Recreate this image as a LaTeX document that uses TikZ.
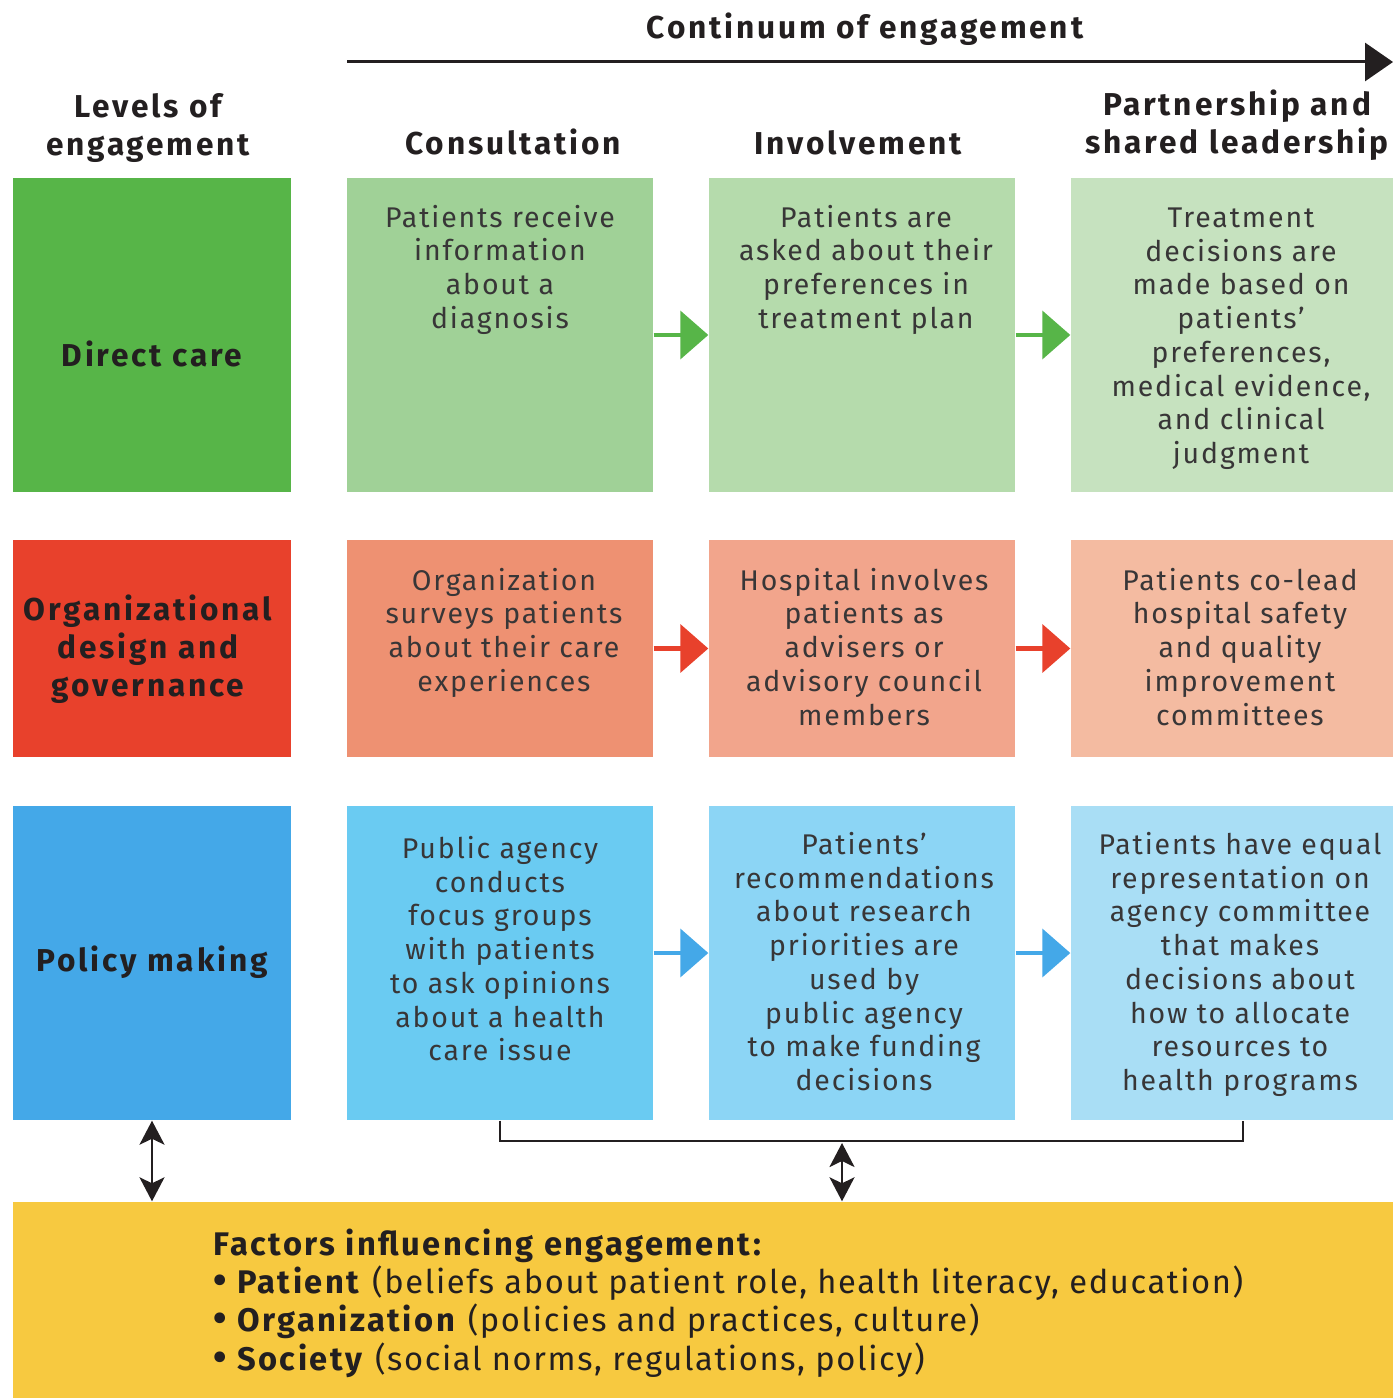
\documentclass[tikz,border=0pt]{standalone}
\usepackage{fontspec}
\setmainfont{Fira Sans}
\newfontfamily\bodyfam{Fira Sans}[LetterSpace=6.5]
\newfontfamily\headfam{Fira Sans}[LetterSpace=9]
\newfontfamily\factfam{Fira Sans}[LetterSpace=5, BoldFeatures={LetterSpace=7.5}]
\usepackage{tikz}
\usetikzlibrary{arrows.meta}
\usetikzlibrary{positioning}
\usetikzlibrary{calc}
\pgfdeclarelayer{nodelayer}
\pgfdeclarelayer{edgelayer}
\pgfsetlayers{main,edgelayer,nodelayer}
\definecolor{ink}{HTML}{231F20}
\definecolor{body}{HTML}{383637}
\definecolor{dcgreen}{HTML}{57B548}
\definecolor{gA}{HTML}{A0D197}
\definecolor{gB}{HTML}{B5DBAC}
\definecolor{gC}{HTML}{C6E2BF}
\definecolor{ogred}{HTML}{E8412C}
\definecolor{rA}{HTML}{EE9172}
\definecolor{rB}{HTML}{F2A58C}
\definecolor{rC}{HTML}{F4BBA1}
\definecolor{pmblue}{HTML}{44A8E8}
\definecolor{bA}{HTML}{6ACBF2}
\definecolor{bB}{HTML}{8CD5F5}
\definecolor{bC}{HTML}{A9DEF5}
\definecolor{factors}{HTML}{F7C940}
\newcommand{\bodysize}{\bodyfam\fontsize{8.1}{9.6}\selectfont}
\newcommand{\headsize}{\headfam\fontsize{9}{10.8}\selectfont\bfseries}
\newcommand{\factsize}{\factfam\fontsize{9.3}{10.9}\selectfont}
\newcommand{\dotitem}{{\fontsize{11}{10.9}\selectfont\textbullet}\ }
\tikzset{cell/.style={draw=none, rectangle, inner sep=0pt, minimum width=3.06cm}}
\tikzset{lvl/.style={draw=none, rectangle, inner sep=0pt, minimum width=2.78cm}}
\tikzset{txt/.style={inner sep=0pt, anchor=base, align=center, text=body, font=\bodysize}}
\tikzset{head/.style={inner sep=0pt, anchor=base, align=center, text=ink, font=\headsize}}
\tikzset{step arrow/.style={line width=1.15pt, -{Triangle[length=0.28cm, width=0.48cm]}}}
\tikzset{both ways/.style={line width=0.7pt, ink, {Stealth[length=0.24cm, width=0.25cm, inset=0.06cm]}-{Stealth[length=0.24cm, width=0.25cm, inset=0.06cm]}}}

\begin{document}
\begin{tikzpicture}
	\useasboundingbox (0, 0) rectangle (13.93, -13.98);
	\begin{pgfonlayer}{nodelayer}
		% levels
		\node [style=lvl, fill=dcgreen, minimum height=3.14cm] (0) at (1.52, -3.35) {};
		\node [style=lvl, fill=ogred, minimum height=2.17cm] (4) at (1.52, -6.485) {};
		\node [style=lvl, fill=pmblue, minimum height=3.14cm] (8) at (1.52, -9.63) {};
		% cells
		\node [style=cell, fill=gA, minimum height=3.14cm] (1) at (5.00, -3.35) {};
		\node [style=cell, fill=gB, minimum height=3.14cm] (2) at (8.62, -3.35) {};
		\node [style=cell, fill=gC, minimum height=3.14cm, minimum width=3.22cm] (3) at (12.32, -3.35) {};
		\node [style=cell, fill=rA, minimum height=2.17cm] (5) at (5.00, -6.485) {};
		\node [style=cell, fill=rB, minimum height=2.17cm] (6) at (8.62, -6.485) {};
		\node [style=cell, fill=rC, minimum height=2.17cm, minimum width=3.22cm] (7) at (12.32, -6.485) {};
		\node [style=cell, fill=bA, minimum height=3.14cm] (9) at (5.00, -9.63) {};
		\node [style=cell, fill=bB, minimum height=3.14cm] (10) at (8.62, -9.63) {};
		\node [style=cell, fill=bC, minimum height=3.14cm, minimum width=3.22cm] (11) at (12.32, -9.63) {};
		\node [style=cell, fill=factors, minimum height=1.96cm, minimum width=13.80cm] (12) at (7.03, -13.00) {};
		% headings (base = last line)
		\node [style=head] (13) at (8.65, -0.39) {Continuum of engagement};
		\node [style=head] (14) at (1.48, -1.551) {Levels of\\engagement};
		\node [style=head] (15) at (5.13, -1.55) {Consultation};
		\node [style=head] (16) at (8.58, -1.55) {Involvement};
		\node [style=head] (17) at (12.37, -1.531) {Partnership and\\shared leadership};
		\node [style=head] (18) at (1.52, -3.67) {Direct care};
		\node [style=head] (19) at (1.48, -6.962) {Organizational\\design and\\governance};
		\node [style=head] (20) at (1.52, -9.71) {Policy making};
		% cell texts
		\node [style=txt] (21) at (5.00, -3.284) {Patients receive\\information\\about a\\diagnosis};
		\node [style=txt] (22) at (8.66, -3.284) {Patients are\\asked about their\\preferences in\\treatment plan};
		\node [style=txt] (23) at (12.41, -4.636) {Treatment\\decisions are\\made based on\\patients’\\preferences,\\medical evidence,\\and clinical\\judgment};
		\node [style=txt] (24) at (5.04, -6.914) {Organization\\surveys patients\\about their care\\experiences};
		\node [style=txt] (25) at (8.64, -7.252) {Hospital involves\\patients as\\advisers or\\advisory council\\members};
		\node [style=txt] (26) at (12.40, -7.252) {Patients co-lead\\hospital safety\\and quality\\improvement\\committees};
		\node [style=txt] (27) at (5.00, -10.608) {Public agency\\conducts\\focus groups\\with patients\\to ask opinions\\about a health\\care issue};
		\node [style=txt] (28) at (8.64, -10.906) {Patients’\\recommendations\\about research\\priorities are\\used by\\public agency\\to make funding\\decisions};
		\node [style=txt] (29) at (12.40, -10.906) {Patients have equal\\representation on\\agency committee\\that makes\\decisions about\\how to allocate\\resources to\\health programs};
		% factors
		\node [inner sep=0pt, anchor=base west, align=left, text=ink, font=\factsize] (30) at (2.13, -13.70) {\textbf{Factors influencing engagement:}\\\textbf{\dotitem Patient} (beliefs about patient role, health literacy, education)\\\textbf{\dotitem Organization} (policies and practices, culture)\\\textbf{\dotitem Society} (social norms, regulations, policy)};
		\coordinate (31) at (3.47, -0.62);
		\coordinate (32) at (13.93, -0.62);
		\coordinate (33) at (12.43, -11.20);
		\coordinate (34) at (8.42, -11.41);
	\end{pgfonlayer}
	\begin{pgfonlayer}{edgelayer}
		\draw [line width=0.85pt, ink, -{Triangle[length=0.28cm, width=0.38cm]}] (31) to (32);
		\draw [style=step arrow, dcgreen] (1) to (2);
		\draw [style=step arrow, dcgreen] (2) to (3);
		\draw [style=step arrow, ogred] (5) to (6);
		\draw [style=step arrow, ogred] (6) to (7);
		\draw [style=step arrow, pmblue] ([yshift=0.1cm]9.east) to ([yshift=0.1cm]10.west);
		\draw [style=step arrow, pmblue] ([yshift=0.1cm]10.east) to ([yshift=0.1cm]11.west);
		\draw [line width=0.8pt, ink] (9.south) |- (34) -| (33 |- 9.south);
		\draw [style=both ways] (8.south) to (8.south |- 12.north);
		\draw [style=both ways] ([yshift=-0.02cm]34) to (34 |- 12.north);
	\end{pgfonlayer}
\end{tikzpicture}
\end{document}
